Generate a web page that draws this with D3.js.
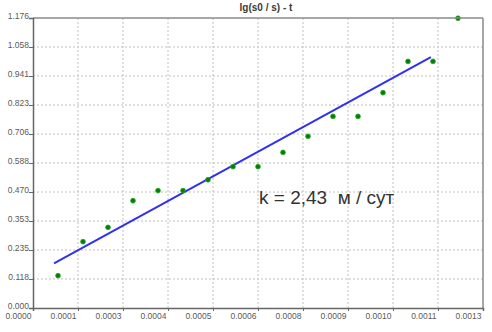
<!DOCTYPE html>
<html>
<head>
<meta charset="utf-8">
<script src="https://cdn.jsdelivr.net/npm/d3@7"></script>
<style>
  body { margin: 0; background: #fff; }
  svg { display: block; font-family: "Liberation Sans", Arial, sans-serif; }
</style>
</head>
<body>
<div id="chart"></div>
<script>
// measured points: t and lg(s0/s)
var tValues = [0.00007, 0.00014, 0.00021, 0.00028, 0.00035, 0.00042, 0.00049, 0.00056, 0.00063,
               0.00070, 0.00077, 0.00084, 0.00091, 0.00098, 0.00105, 0.00112, 0.00119];
var lgValues = [0.131, 0.269, 0.327, 0.435, 0.476, 0.476, 0.520, 0.573, 0.573,
                0.631, 0.696, 0.777, 0.777, 0.873, 1.000, 1.000, 1.175];

// fitted line ends
var fitT = [0.0000588, 0.001114];
var fitLg = [0.181, 1.017];

var xTickLabels = ["0.0000", "0.0001", "0.0003", "0.0004", "0.0005", "0.0006",
                   "0.0008", "0.0009", "0.0010", "0.0011", "0.0013"];
var yTickLabels = ["0.000", "0.118", "0.235", "0.353", "0.470", "0.588",
                   "0.706", "0.823", "0.941", "1.058", "1.176"];

var xMax = 0.00126, yMax = 1.176;

var W = 492, H = 332;
var margin = { top : 18, right : 9, bottom : 24, left : 33 };
var w = W - margin.left - margin.right;
var h = H - margin.top - margin.bottom;

var svg = d3.select("#chart").append("svg")
  .attr("width", W)
  .attr("height", H);

var g = svg.append("g")
  .attr("transform", "translate(" + margin.left + "," + margin.top + ")");

var x = d3.scaleLinear().domain([0, xMax]).range([0, w]);
var y = d3.scaleLinear().domain([0, yMax]).range([h, 0]);

var xTicks = xTickLabels.map(function(d, i) { return i * xMax / 10; });
var yTicks = yTickLabels.map(function(d, i) { return i * yMax / 10; });

// grid
g.append("g").selectAll("line.vg")
  .data(xTicks.slice(1, -1))
  .enter().append("line")
  .attr("x1", function(d) { return x(d); })
  .attr("x2", function(d) { return x(d); })
  .attr("y1", 0).attr("y2", h)
  .attr("stroke", "#c0c0c0").attr("stroke-dasharray", "2,2");

g.append("g").selectAll("line.hg")
  .data(yTicks.slice(1, -1))
  .enter().append("line")
  .attr("x1", 0).attr("x2", w)
  .attr("y1", function(d) { return y(d); })
  .attr("y2", function(d) { return y(d); })
  .attr("stroke", "#c0c0c0").attr("stroke-dasharray", "2,2");

// fit line
g.append("line")
  .attr("x1", x(fitT[0])).attr("y1", y(fitLg[0]))
  .attr("x2", x(fitT[1])).attr("y2", y(fitLg[1]))
  .attr("stroke", "#3030f0").attr("stroke-width", 2);

// points
g.append("g").selectAll("circle")
  .data(tValues)
  .enter().append("circle")
  .attr("cx", function(d) { return x(d); })
  .attr("cy", function(d, i) { return y(lgValues[i]); })
  .attr("r", 2.4)
  .attr("fill", "#0a7a0a")
  .attr("stroke", "#22aa22")
  .attr("stroke-width", 0.8);

// frame top/right
g.append("line").attr("x1", 0).attr("x2", w).attr("y1", 0).attr("y2", 0)
  .attr("stroke", "#8a8a8a").attr("stroke-width", 1.5);
g.append("line").attr("x1", w).attr("x2", w).attr("y1", 0).attr("y2", h)
  .attr("stroke", "#8a8a8a").attr("stroke-width", 1.5);

// axes
var xAxis = d3.axisBottom(x).tickValues(xTicks).tickSize(3).tickPadding(0)
  .tickFormat(function(d, i) { return xTickLabels[i]; });
var yAxis = d3.axisLeft(y).tickValues(yTicks).tickSize(4).tickPadding(0)
  .tickFormat(function(d, i) { return yTickLabels[i]; });

var gx = g.append("g").attr("transform", "translate(0," + h + ")").call(xAxis);
var gy = g.append("g").call(yAxis);

[gx, gy].forEach(function(a) {
  a.select(".domain").attr("stroke", "#666").attr("stroke-width", 1.5);
  a.selectAll(".tick line").attr("stroke", "#666");
  a.selectAll(".tick text").attr("fill", "#5a5a5a").attr("font-size", 8.5)
    .attr("font-family", "Liberation Sans, Arial, sans-serif");
});

gx.selectAll(".tick text").attr("text-anchor", "end").attr("x", -2).attr("y", 5).attr("dy", "0.71em");
gy.selectAll(".tick text").attr("x", -4).attr("dy", "0.05em");

// title
svg.append("text")
  .attr("x", 266).attr("y", 11)
  .attr("text-anchor", "middle")
  .attr("font-size", 10).attr("font-weight", "bold")
  .attr("fill", "#3a3a3a")
  .text("lg(s0 / s) - t");

// annotation
svg.append("text")
  .attr("x", 259).attr("y", 204)
  .attr("font-size", 19)
  .attr("fill", "#333")
  .style("white-space", "pre")
  .text("k = 2,43  м / сут");
</script>
</body>
</html>
